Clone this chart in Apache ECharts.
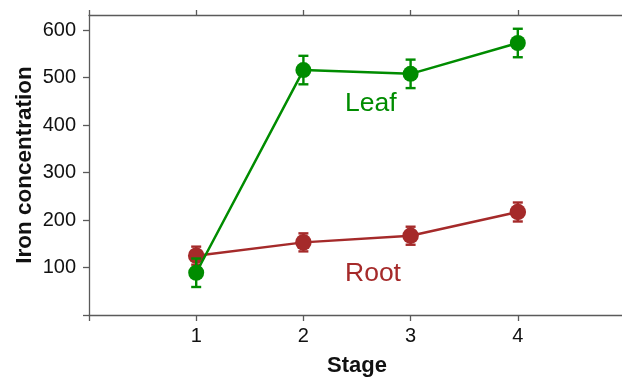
<!DOCTYPE html>
<html><head><meta charset="utf-8">
<script src="https://cdn.jsdelivr.net/npm/echarts@6/dist/echarts.min.js"></script>
<style>html,body{margin:0;padding:0;background:#fff}#c{width:622px;height:379px}</style>
</head><body><div id="c"></div>
<script>
const stages = [1, 2, 3, 4];
const leafMean = [89, 516, 508, 573];
const leafErr = [30, 30, 30, 30];
const rootMean = [125, 153, 167, 217];
const rootErr = [19, 19, 19, 20];
const yTicks = [0, 100, 200, 300, 400, 500, 600];
const yLabels = [100, 200, 300, 400, 500, 600];
const xTicks = [0, 1, 2, 3, 4, 5];

const GREEN = '#008c00', RED = '#a52a2a';
const FONT = 'Liberation Sans, Arial, sans-serif';
const chart = echarts.init(document.getElementById('c'));

function errSeries(means, errs, color, z) {
  return {
    type: 'custom', z: z, silent: true,
    data: stages.map((s, i) => [s, means[i] - errs[i], means[i] + errs[i]]),
    renderItem: function (params, api) {
      const lo = api.coord([api.value(0), api.value(1)]);
      const hi = api.coord([api.value(0), api.value(2)]);
      const hw = 5;
      const st = {stroke: color, lineWidth: 2.4, fill: null};
      return {type: 'group', children: [
        {type: 'line', shape: {x1: lo[0], y1: lo[1], x2: hi[0], y2: hi[1]}, style: st},
        {type: 'line', shape: {x1: lo[0] - hw, y1: lo[1], x2: lo[0] + hw, y2: lo[1]}, style: st},
        {type: 'line', shape: {x1: hi[0] - hw, y1: hi[1], x2: hi[0] + hw, y2: hi[1]}, style: st}
      ]};
    }
  };
}

const axisLineStyle = {color: '#5a5a5a', width: 1.3};
chart.setOption({
  animation: false,
  grid: {left: 89, right: -3, top: 15, bottom: 64, containLabel: false, outerBoundsMode: 'none'},
  xAxis: [{
    type: 'value', min: 0, max: 5, interval: 1, position: 'bottom',
    name: 'Stage', nameLocation: 'middle', nameGap: 40,
    nameTextStyle: {fontFamily: FONT, fontSize: 22, fontWeight: 'bold', color: '#111'},
    axisLine: {show: true, lineStyle: axisLineStyle},
    axisTick: {show: true, length: 6, lineStyle: axisLineStyle, customValues: xTicks},
    axisLabel: {fontFamily: FONT, fontSize: 20, color: '#111', margin: 11, customValues: stages},
    splitLine: {show: false}
  }, {
    type: 'value', min: 0, max: 5, interval: 1, position: 'top',
    axisLine: {show: true, lineStyle: axisLineStyle},
    axisTick: {show: true, length: 5, lineStyle: axisLineStyle, customValues: xTicks},
    axisLabel: {show: false},
    splitLine: {show: false}
  }],
  yAxis: {
    type: 'value', min: 0, max: 632, interval: 100,
    name: 'Iron concentration', nameLocation: 'middle', nameGap: 53, nameMoveOverlap: false,
    nameTextStyle: {fontFamily: FONT, fontSize: 22.5, fontWeight: 'bold', color: '#111'},
    axisLine: {show: true, lineStyle: axisLineStyle},
    axisTick: {show: true, length: 6, lineStyle: axisLineStyle, customValues: yTicks},
    axisLabel: {fontFamily: FONT, fontSize: 20, color: '#111', margin: 13, customValues: yLabels},
    splitLine: {show: false}
  },
  series: [
    errSeries(rootMean, rootErr, RED, 1),
    {type: 'line', z: 2, data: stages.map((s, i) => [s, rootMean[i]]),
     symbol: 'circle', symbolSize: 16.5, itemStyle: {color: RED},
     lineStyle: {color: RED, width: 2.5}},
    errSeries(leafMean, leafErr, GREEN, 3),
    {type: 'line', z: 4, data: stages.map((s, i) => [s, leafMean[i]]),
     symbol: 'circle', symbolSize: 16, itemStyle: {color: GREEN},
     lineStyle: {color: GREEN, width: 2.5}}
  ],
  graphic: [
    {type: 'text', left: 345, top: 90, style: {text: 'Leaf', fill: GREEN, font: '26.5px ' + FONT}},
    {type: 'text', left: 345, top: 260, style: {text: 'Root', fill: RED, font: '26.5px ' + FONT}}
  ]
});
</script></body></html>
